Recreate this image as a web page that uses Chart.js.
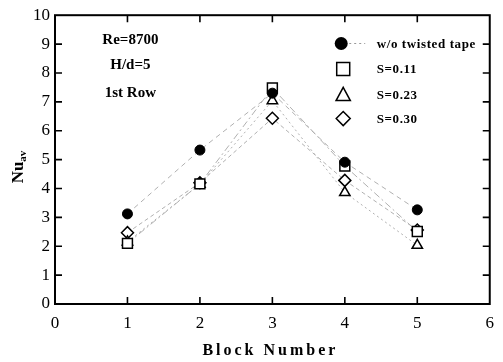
<!DOCTYPE html>
<html>
<head>
<meta charset="utf-8">
<script src="https://cdn.jsdelivr.net/npm/chart.js@4/dist/chart.umd.min.js"></script>
<style>
  html, body { margin: 0; padding: 0; background: #fff; }
  #wrap { width: 503px; height: 362px; position: relative; }
</style>
</head>
<body>
<div id="wrap"><canvas id="c" width="503" height="362"></canvas></div>
<script>
// ---- data ----
const blocks = [1, 2, 3, 4, 5];
const noTape = [3.12, 5.33, 7.3, 4.91, 3.26];
const s011 = [2.1, 4.16, 7.48, 4.78, 2.51];
const s023 = [2.15, 4.15, 7.04, 3.86, 2.03];
const s030 = [2.47, 4.2, 6.43, 4.28, 2.56];
const seriesNames = ['w/o twisted tape', 'S=0.11', 'S=0.23', 'S=0.30'];
const xTicks = [0, 1, 2, 3, 4, 5, 6];
const yTicks = [0, 1, 2, 3, 4, 5, 6, 7, 8, 9, 10];
const notes = ['Re=8700', 'H/d=5', '1st Row'];

const SERIF = "'Liberation Serif', 'Times New Roman', serif";

function pts(vals) { return blocks.map((b, i) => ({ x: b, y: vals[i] })); }

function drawSym(ctx, kind, x, y, s) {
  ctx.save();
  ctx.lineWidth = 1.5;
  ctx.strokeStyle = '#000';
  ctx.beginPath();
  if (kind === 'circle') {
    ctx.arc(x, y, s, 0, Math.PI * 2);
    ctx.fillStyle = '#000'; ctx.fill();
  } else if (kind === 'rect') {
    ctx.rect(x - s, y - s, 2 * s, 2 * s);
    ctx.fillStyle = '#fff'; ctx.fill(); ctx.stroke();
  } else if (kind === 'triangle') {
    ctx.moveTo(x, y - s);
    ctx.lineTo(x + s * 0.95, y + s * 0.75);
    ctx.lineTo(x - s * 0.95, y + s * 0.75);
    ctx.closePath();
    ctx.fillStyle = '#fff'; ctx.fill(); ctx.stroke();
  } else {
    ctx.moveTo(x, y - s); ctx.lineTo(x + s, y); ctx.lineTo(x, y + s); ctx.lineTo(x - s, y);
    ctx.closePath();
    ctx.fillStyle = '#fff'; ctx.fill(); ctx.stroke();
  }
  ctx.restore();
}

const framePlugin = {
  id: 'frame',
  afterDraw(chart) {
    const ctx = chart.ctx;
    const { left, right, top, bottom } = chart.chartArea;
    const xs = chart.scales.x, ys = chart.scales.y;
    ctx.save();
    ctx.strokeStyle = '#000';
    ctx.lineWidth = 2;
    ctx.strokeRect(left, top, right - left, bottom - top);
    ctx.lineWidth = 1.6;
    ctx.beginPath();
    xTicks.slice(1, -1).forEach(v => {
      const px = xs.getPixelForValue(v);
      ctx.moveTo(px, bottom); ctx.lineTo(px, bottom - 7);
      ctx.moveTo(px, top); ctx.lineTo(px, top + 7);
    });
    yTicks.slice(1, -1).forEach(v => {
      const py = ys.getPixelForValue(v);
      ctx.moveTo(left, py); ctx.lineTo(left + 7, py);
      ctx.moveTo(right, py); ctx.lineTo(right - 7, py);
    });
    ctx.stroke();

    // annotations
    ctx.fillStyle = '#000';
    ctx.textAlign = 'center';
    ctx.textBaseline = 'middle';
    ctx.font = 'bold 15px ' + SERIF;
    const nx = xs.getPixelForValue(1.04);
    ctx.fillText(notes[0], nx, ys.getPixelForValue(9.12));
    ctx.fillText(notes[1], nx, ys.getPixelForValue(8.26));
    ctx.fillText(notes[2], nx, ys.getPixelForValue(7.3));

    // legend
    const lx = xs.getPixelForValue(3.95), tx = xs.getPixelForValue(4.44);
    const ly = [9.02, 8.14, 7.24, 6.42].map(v => ys.getPixelForValue(v));
    ctx.strokeStyle = '#999'; ctx.lineWidth = 1; ctx.setLineDash([2, 3]);
    ctx.beginPath(); ctx.moveTo(lx + 8, ly[0]); ctx.lineTo(lx + 24, ly[0]); ctx.stroke();
    ctx.setLineDash([]);
    drawSym(ctx, 'circle', lx, ly[0], 6.5);
    drawSym(ctx, 'rect', lx + 2, ly[1], 6.5);
    drawSym(ctx, 'triangle', lx + 2, ly[2], 7.5);
    drawSym(ctx, 'diamond', lx + 2, ly[3], 7);
    ctx.textAlign = 'left';
    ctx.font = 'bold 13px ' + SERIF;
    ctx.letterSpacing = '0.6px';
    seriesNames.forEach((n, i) => ctx.fillText(n, tx, ly[i] + 1));

    // axis titles
    ctx.textAlign = 'center';
    ctx.font = 'bold 16px ' + SERIF;
    ctx.letterSpacing = '3px';
    ctx.fillText('Block Number', (left + right) / 2 - 2, 351);
    ctx.letterSpacing = '0px';

    ctx.translate(19, 167);
    ctx.rotate(-Math.PI / 2);
    ctx.textAlign = 'left';
    ctx.font = 'bold 17px ' + SERIF;
    const wN = ctx.measureText('Nu').width;
    ctx.font = 'bold 11px ' + SERIF;
    const wA = ctx.measureText('av').width;
    const x0 = -(wN + wA) / 2;
    ctx.font = 'bold 17px ' + SERIF;
    ctx.fillText('Nu', x0, 0);
    ctx.font = 'bold 11px ' + SERIF;
    ctx.fillText('av', x0 + wN, 4);
    ctx.restore();
  }
};

const lineCol = '#b0b0b0';
new Chart(document.getElementById('c'), {
  type: 'scatter',
  data: {
    datasets: [
      { label: seriesNames[0], data: pts(noTape), showLine: true, order: 0,
        pointStyle: 'circle', pointRadius: 5, backgroundColor: '#000', pointBorderColor: '#000',
        borderColor: lineCol, borderWidth: 1, borderDash: [5, 4], pointBorderWidth: 1 },
      { label: seriesNames[1], data: pts(s011), showLine: true, order: 1,
        pointStyle: 'rect', pointRadius: 7, backgroundColor: '#fff', pointBorderColor: '#000',
        borderColor: lineCol, borderWidth: 1, borderDash: [7, 3, 2, 3], pointBorderWidth: 1.5 },
      { label: seriesNames[2], data: pts(s023), showLine: true, order: 2,
        pointStyle: 'triangle', pointRadius: 6, backgroundColor: '#fff', pointBorderColor: '#000',
        borderColor: lineCol, borderWidth: 1, borderDash: [2, 3], pointBorderWidth: 1.5 },
      { label: seriesNames[3], data: pts(s030), showLine: true, order: 3,
        pointStyle: 'rectRot', pointRadius: 6, backgroundColor: '#fff', pointBorderColor: '#000',
        borderColor: lineCol, borderWidth: 1, borderDash: [4, 3], pointBorderWidth: 1.5 }
    ]
  },
  options: {
    responsive: false,
    animation: false,
    layout: { padding: { top: 14, right: 9, left: 0, bottom: 0 } },
    plugins: { legend: { display: false }, tooltip: { enabled: false } },
    scales: {
      x: {
        type: 'linear', min: 0, max: 6,
        grid: { display: false, drawTicks: false },
        border: { display: false },
        afterBuildTicks(s) { s.ticks = xTicks.map(v => ({ value: v })); },
        afterFit(s) { s.height = 58; },
        ticks: { color: '#000', padding: 9, font: { family: SERIF, size: 17 } }
      },
      y: {
        min: 0, max: 10,
        grid: { display: false, drawTicks: false },
        border: { display: false },
        afterBuildTicks(s) { s.ticks = yTicks.map(v => ({ value: v })); },
        afterFit(s) { s.width = 55; },
        ticks: { color: '#000', padding: 5, font: { family: SERIF, size: 17 } }
      }
    }
  },
  plugins: [framePlugin]
});
</script>
</body>
</html>
